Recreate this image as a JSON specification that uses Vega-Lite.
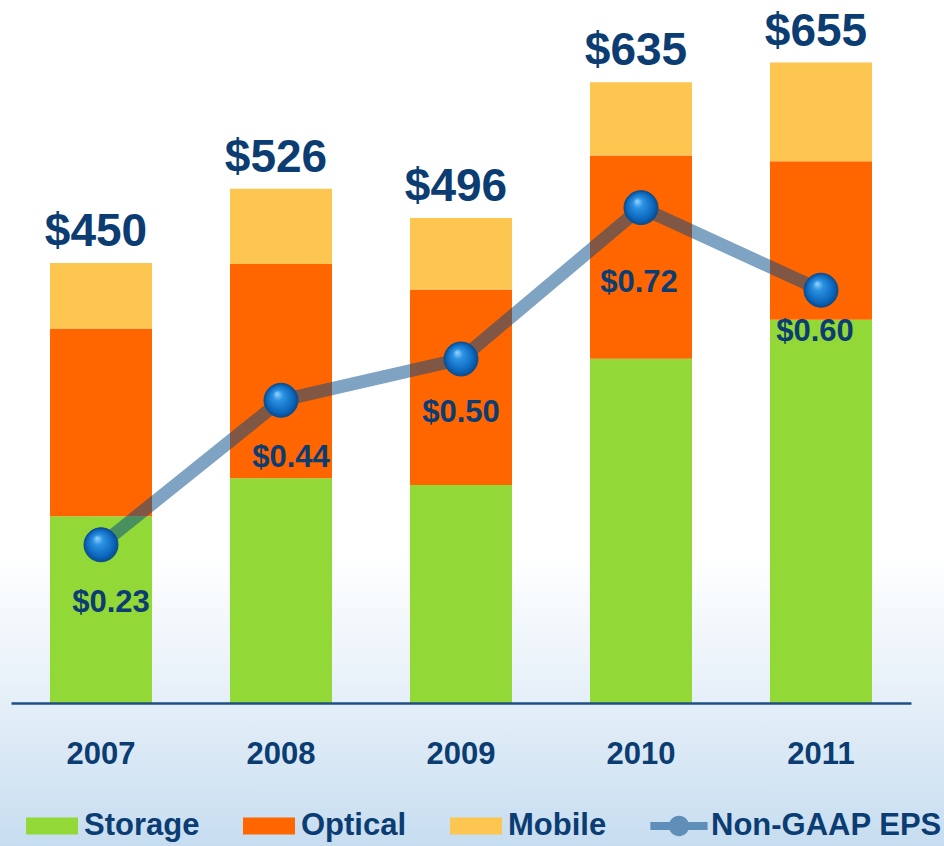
{
  "$schema": "https://vega.github.io/schema/vega-lite/v6.json",
  "width": 944,
  "height": 846,
  "autosize": "none",
  "padding": 0,
  "background": "#ffffff",
  "config": {
    "font": "Liberation Sans",
    "view": {
      "stroke": null,
      "fill": {
        "gradient": "linear", "x1": 0, "y1": 0, "x2": 0, "y2": 1,
        "stops": [
          {"offset": 0, "color": "#ffffff"},
          {"offset": 0.655, "color": "#ffffff"},
          {"offset": 0.83, "color": "#e5eff8"},
          {"offset": 1, "color": "#c6ddf0"}
        ]
      }
    }
  },
  "datasets": {
    "segments": [
      {"year": "2007", "segment": "Storage", "value": 191},
      {"year": "2007", "segment": "Optical", "value": 192},
      {"year": "2007", "segment": "Mobile", "value": 67},
      {"year": "2008", "segment": "Storage", "value": 230},
      {"year": "2008", "segment": "Optical", "value": 219},
      {"year": "2008", "segment": "Mobile", "value": 77},
      {"year": "2009", "segment": "Storage", "value": 223},
      {"year": "2009", "segment": "Optical", "value": 200},
      {"year": "2009", "segment": "Mobile", "value": 73},
      {"year": "2010", "segment": "Storage", "value": 352},
      {"year": "2010", "segment": "Optical", "value": 208},
      {"year": "2010", "segment": "Mobile", "value": 75},
      {"year": "2011", "segment": "Storage", "value": 392},
      {"year": "2011", "segment": "Optical", "value": 162},
      {"year": "2011", "segment": "Mobile", "value": 101}
    ],
    "summary": [
      {"year": "2007", "total": 450, "eps": 0.23},
      {"year": "2008", "total": 526, "eps": 0.44},
      {"year": "2009", "total": 496, "eps": 0.50},
      {"year": "2010", "total": 635, "eps": 0.72},
      {"year": "2011", "total": 655, "eps": 0.60}
    ]
  },
  "layer": [
    {
      "layer": [
        {
          "data": {"name": "segments"},
          "transform": [
            {"calculate": "indexof(['Storage','Optical','Mobile'], datum.segment)", "as": "stackOrder"}
          ],
          "mark": {"type": "bar"},
          "encoding": {
            "x": {
              "field": "year", "type": "ordinal",
              "scale": {"range": [11, 911], "paddingInner": 0.4333, "paddingOuter": 0.2167},
              "axis": {
                "title": null, "labelAngle": 0, "ticks": false, "grid": false,
                "domainColor": "#1d4f86", "domainWidth": 2.5,
                "labelPadding": 36, "labelFontSize": 31, "labelFontWeight": "bold",
                "labelColor": "#0b3c72", "labelFont": "Liberation Sans",
                "offset": -143, "zindex": 1
              }
            },
            "y": {
              "field": "value", "type": "quantitative", "stack": "zero",
              "scale": {"domain": [-146.2, 719], "nice": false, "zero": false},
              "axis": null
            },
            "color": {
              "field": "segment", "type": "nominal",
              "scale": {
                "domain": ["Storage", "Optical", "Mobile", "Non-GAAP EPS"],
                "range": ["#92d836", "#ff6600", "#fcc650", "#5f8fb8"]
              },
              "legend": {
                "orient": "none", "legendX": 26, "legendY": 800,
                "direction": "horizontal", "title": null, "padding": 0,
                "symbolType": "M-1,-0.327H1V0.327H-1Z", "symbolSize": 2704,
                "symbolStrokeWidth": 0, "symbolOpacity": 1,
                "labelFont": "Liberation Sans", "labelFontSize": 31, "labelFontWeight": "bold",
                "labelColor": "#0b3c72", "labelOffset": 6, "columnPadding": 43, "labelLimit": 400,
                "encode": {
                  "symbols": {
                    "update": {
                      "shape": {"signal": "datum.value === 'Non-GAAP EPS' ? 'M-1.1,-0.15H1.1V0.15H-1.1Z M0.39,0A0.39,0.39,0,1,1,-0.39,0A0.39,0.39,0,1,1,0.39,0Z' : 'M-1,-0.327H1V0.327H-1Z'"},
                      "fill": {"signal": "datum.value === 'Non-GAAP EPS' ? {gradient: 'linear', x1: 0, y1: 0, x2: 1, y2: 0, stops: [{offset: 0, color: '#6f9cc2'}, {offset: 0.32, color: '#6f9cc2'}, {offset: 0.33, color: '#1a7fd6'}, {offset: 0.67, color: '#1a7fd6'}, {offset: 0.68, color: '#6f9cc2'}, {offset: 1, color: '#6f9cc2'}]} : scale('color', datum.value)"}
                    }
                  }
                }
              }
            },
            "order": {"field": "stackOrder", "sort": "ascending"}
          }
        },
        {
          "data": {"name": "summary"},
          "mark": {
            "type": "text", "font": "Liberation Sans", "fontSize": 46, "fontWeight": "bold",
            "color": "#0b3c72", "baseline": "alphabetic", "dy": -17, "dx": -5
          },
          "encoding": {
            "x": {"field": "year", "type": "ordinal"},
            "y": {
              "field": "total", "type": "quantitative",
              "scale": {"domain": [-146.2, 719], "nice": false, "zero": false},
              "axis": null
            },
            "text": {"field": "total", "format": "$d"}
          }
        }
      ]
    },
    {
      "data": {"name": "summary"},
      "layer": [
        {
          "mark": {"type": "line", "color": "#004787", "strokeOpacity": 0.5, "strokeWidth": 13},
          "encoding": {
            "x": {"field": "year", "type": "ordinal"},
            "y": {
              "field": "eps", "type": "quantitative",
              "scale": {"domain": [-0.2078, 1.0218], "nice": false, "zero": false},
              "axis": null
            }
          }
        },
        {
          "mark": {
            "type": "point", "filled": true, "size": 1156, "opacity": 1,
            "fill": {
              "gradient": "radial", "x1": 0.38, "y1": 0.3, "r1": 0, "x2": 0.5, "y2": 0.5, "r2": 0.5,
              "stops": [
                {"offset": 0, "color": "#9ad6ff"},
                {"offset": 0.3, "color": "#2c92e2"},
                {"offset": 0.8, "color": "#0b66bb"},
                {"offset": 1, "color": "#0a4a8c"}
              ]
            },
            "stroke": "#0d4f91", "strokeWidth": 1
          },
          "encoding": {
            "x": {"field": "year", "type": "ordinal"},
            "y": {"field": "eps", "type": "quantitative"}
          }
        },
        {
          "transform": [{"filter": "datum.year == '2007' || datum.year == '2008'"}],
          "mark": {
            "type": "text", "font": "Liberation Sans", "fontSize": 31, "fontWeight": "bold",
            "color": "#0b3c72", "baseline": "alphabetic", "dy": 67, "dx": 10
          },
          "encoding": {
            "x": {"field": "year", "type": "ordinal"},
            "y": {"field": "eps", "type": "quantitative"},
            "text": {"field": "eps", "format": "$.2f"}
          }
        },
        {
          "transform": [{"filter": "datum.year == '2009'"}],
          "mark": {
            "type": "text", "font": "Liberation Sans", "fontSize": 31, "fontWeight": "bold",
            "color": "#0b3c72", "baseline": "alphabetic", "dy": 63, "dx": 0
          },
          "encoding": {
            "x": {"field": "year", "type": "ordinal"},
            "y": {"field": "eps", "type": "quantitative"},
            "text": {"field": "eps", "format": "$.2f"}
          }
        },
        {
          "transform": [{"filter": "datum.year == '2010'"}],
          "mark": {
            "type": "text", "font": "Liberation Sans", "fontSize": 31, "fontWeight": "bold",
            "color": "#0b3c72", "baseline": "alphabetic", "dy": 84, "dx": -2
          },
          "encoding": {
            "x": {"field": "year", "type": "ordinal"},
            "y": {"field": "eps", "type": "quantitative"},
            "text": {"field": "eps", "format": "$.2f"}
          }
        },
        {
          "transform": [{"filter": "datum.year == '2011'"}],
          "mark": {
            "type": "text", "font": "Liberation Sans", "fontSize": 31, "fontWeight": "bold",
            "color": "#0b3c72", "baseline": "alphabetic", "dy": 51, "dx": -6
          },
          "encoding": {
            "x": {"field": "year", "type": "ordinal"},
            "y": {"field": "eps", "type": "quantitative"},
            "text": {"field": "eps", "format": "$.2f"}
          }
        }
      ]
    }
  ],
  "resolve": {"scale": {"y": "independent"}}
}
